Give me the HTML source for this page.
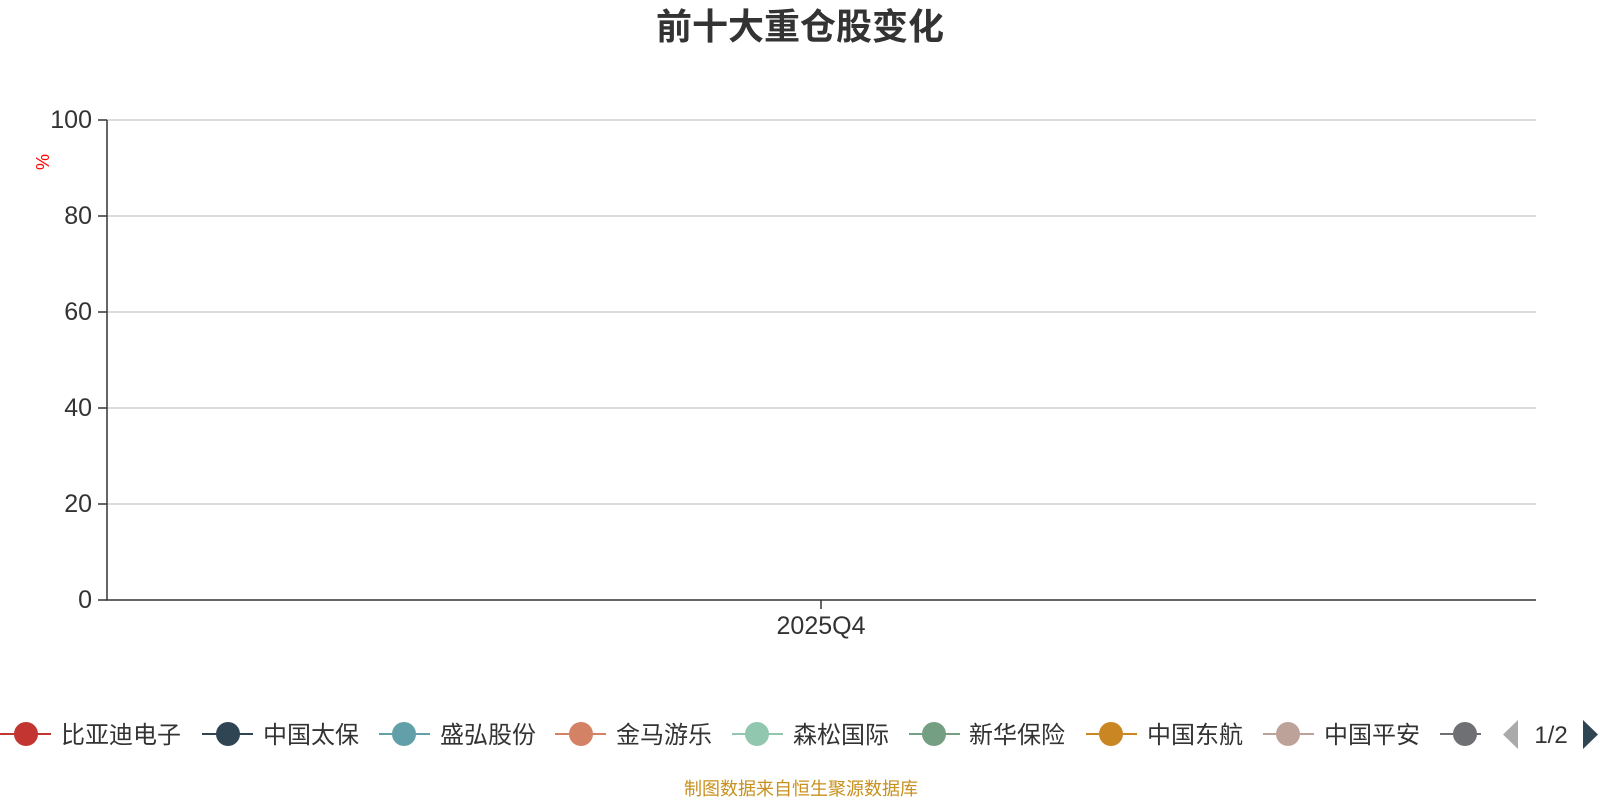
<!DOCTYPE html>
<html><head><meta charset="utf-8"><style>
html,body{margin:0;padding:0;background:#fff;}
svg{display:block;font-family:"Liberation Sans","Noto Sans CJK SC",sans-serif;}
</style></head><body>
<svg width="1600" height="800" viewBox="0 0 1600 800" xmlns="http://www.w3.org/2000/svg">
<text x="800" y="39" text-anchor="middle" font-size="36" font-weight="bold" fill="#333">前十大重仓股变化</text>
<g stroke="#c8c8c8" stroke-width="1.3">
<line x1="106" y1="120" x2="1536" y2="120"/>
<line x1="106" y1="216" x2="1536" y2="216"/>
<line x1="106" y1="312" x2="1536" y2="312"/>
<line x1="106" y1="408" x2="1536" y2="408"/>
<line x1="106" y1="504" x2="1536" y2="504"/>
</g>
<g stroke="#333" stroke-width="1.5">
<line x1="107" y1="120" x2="107" y2="600"/>
<line x1="106" y1="600" x2="1536" y2="600"/>
<line x1="98" y1="120" x2="107" y2="120"/>
<line x1="98" y1="216" x2="107" y2="216"/>
<line x1="98" y1="312" x2="107" y2="312"/>
<line x1="98" y1="408" x2="107" y2="408"/>
<line x1="98" y1="504" x2="107" y2="504"/>
<line x1="98" y1="600" x2="107" y2="600"/>
<line x1="821" y1="600" x2="821" y2="609"/>
</g>
<g font-size="25" fill="#333" text-anchor="end">
<text x="92" y="128">100</text>
<text x="92" y="224">80</text>
<text x="92" y="320">60</text>
<text x="92" y="416">40</text>
<text x="92" y="512">20</text>
<text x="92" y="608">0</text>
</g>
<text x="821" y="634" text-anchor="middle" font-size="25" fill="#333">2025Q4</text>
<text x="0" y="0" font-size="18" fill="red" transform="translate(49,162) rotate(-90)" text-anchor="middle">%</text>
<g font-size="24" fill="#333">
<g><line x1="0" y1="734" x2="51" y2="734" stroke="#c23531" stroke-width="2"/><circle cx="26" cy="734" r="12" fill="#c23531"/><text x="61" y="743">比亚迪电子</text></g>
<g><line x1="202" y1="734" x2="253" y2="734" stroke="#2f4554" stroke-width="2"/><circle cx="228" cy="734" r="12" fill="#2f4554"/><text x="263" y="743">中国太保</text></g>
<g><line x1="379" y1="734" x2="430" y2="734" stroke="#61a0a8" stroke-width="2"/><circle cx="404" cy="734" r="12" fill="#61a0a8"/><text x="440" y="743">盛弘股份</text></g>
<g><line x1="555" y1="734" x2="606" y2="734" stroke="#d48265" stroke-width="2"/><circle cx="581" cy="734" r="12" fill="#d48265"/><text x="616" y="743">金马游乐</text></g>
<g><line x1="732" y1="734" x2="783" y2="734" stroke="#91c7ae" stroke-width="2"/><circle cx="757" cy="734" r="12" fill="#91c7ae"/><text x="793" y="743">森松国际</text></g>
<g><line x1="909" y1="734" x2="960" y2="734" stroke="#749f83" stroke-width="2"/><circle cx="934" cy="734" r="12" fill="#749f83"/><text x="969" y="743">新华保险</text></g>
<g><line x1="1086" y1="734" x2="1137" y2="734" stroke="#ca8622" stroke-width="2"/><circle cx="1111" cy="734" r="12" fill="#ca8622"/><text x="1147" y="743">中国东航</text></g>
<g><line x1="1263" y1="734" x2="1314" y2="734" stroke="#bda29a" stroke-width="2"/><circle cx="1288" cy="734" r="12" fill="#bda29a"/><text x="1324" y="743">中国平安</text></g>
<g><line x1="1440" y1="734" x2="1481" y2="734" stroke="#6e7074" stroke-width="2"/><circle cx="1465" cy="734" r="12" fill="#6e7074"/></g>
<polygon points="1518,720 1518,749 1503,734.5" fill="#aaa"/>
<text x="1551" y="743" text-anchor="middle">1/2</text>
<polygon points="1583,720 1583,749 1598,734.5" fill="#2f4554"/>
</g>
<text x="801" y="795" text-anchor="middle" font-size="18" fill="#c8901e">制图数据来自恒生聚源数据库</text>
</svg>
</body></html>
